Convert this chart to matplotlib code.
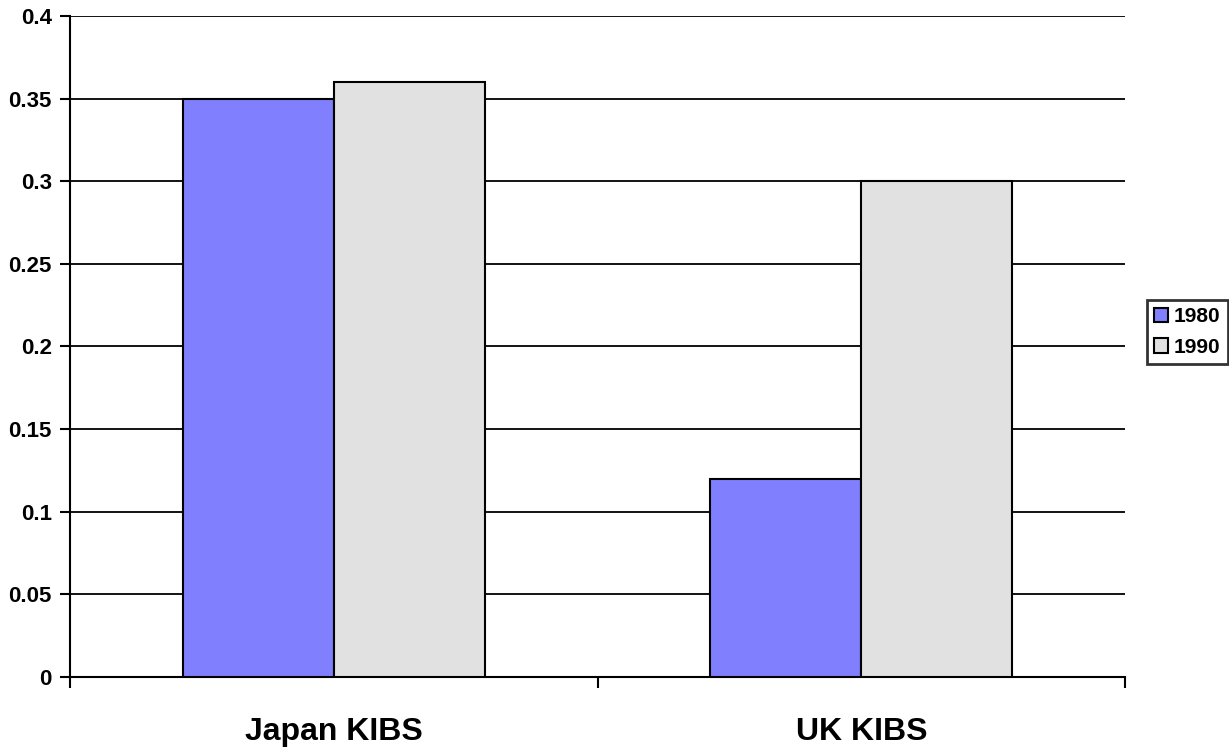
import matplotlib
matplotlib.use("Agg")
import matplotlib.pyplot as plt
import numpy as np

categories = ["Japan KIBS", "UK KIBS"]
series_names = ["1980", "1990"]
values_1980 = [0.35, 0.12]
values_1990 = [0.36, 0.30]
yticks = [0, 0.05, 0.1, 0.15, 0.2, 0.25, 0.3, 0.35, 0.4]
ytick_labels = ["0", "0.05", "0.1", "0.15", "0.2", "0.25", "0.3", "0.35", "0.4"]

plt.rcParams['font.family'] = ['Liberation Sans', 'DejaVu Sans']
plt.rcParams['font.weight'] = 'bold'

fig = plt.figure(figsize=(12.29, 7.51), dpi=100)
ax = fig.add_axes([70/1229, 1-677/751, (1125-70)/1229, (677-16)/751])

x = np.arange(len(categories)) + 0.5
w = 0.286
colors = ["#8080ff", "#e1e1e1"]
ax.bar(x - w/2, values_1980, w, color=colors[0], edgecolor="black", linewidth=1.5, label=series_names[0], zorder=3)
ax.bar(x + w/2, values_1990, w, color=colors[1], edgecolor="black", linewidth=1.5, label=series_names[1], zorder=3)

ax.set_xlim(0, 2)
ax.set_ylim(0, 0.4)
ax.set_yticks(yticks)
ax.set_yticklabels(ytick_labels, fontsize=16, fontweight='bold')
ax.yaxis.grid(True, color="black", linewidth=1.3, zorder=0)
ax.set_axisbelow(True)

ax.set_xticks([0, 1, 2])
ax.set_xticklabels([])
ax.tick_params(axis='x', direction='out', length=8, width=1.5, color='black')
ax.tick_params(axis='y', direction='out', length=7, width=1.5, color='black', pad=6)
for i, c in enumerate(categories):
    ax.text(x[i], 1 - 740/751, c, ha='center', va='baseline', fontsize=23, fontweight='bold',
            transform=ax.get_xaxis_transform() + matplotlib.transforms.Affine2D())
# reposition y in figure coords
for t in ax.texts:
    t.set_transform(matplotlib.transforms.blended_transform_factory(ax.transData, fig.transFigure))

ax.spines['top'].set_visible(False)
ax.spines['right'].set_visible(False)
ax.spines['left'].set_linewidth(1.5)
ax.spines['bottom'].set_linewidth(1.5)

leg = fig.legend(loc='center', bbox_to_anchor=(1187/1229, 1-332/751), frameon=True,
                 fancybox=False, edgecolor='black', prop={'weight': 'bold', 'size': 15},
                 handlelength=0.7, handleheight=0.7, handletextpad=0.25, borderpad=0.35,
                 labelspacing=0.55, borderaxespad=0)
leg.get_frame().set_linewidth(2)

fig.savefig("out.png", dpi=100)
